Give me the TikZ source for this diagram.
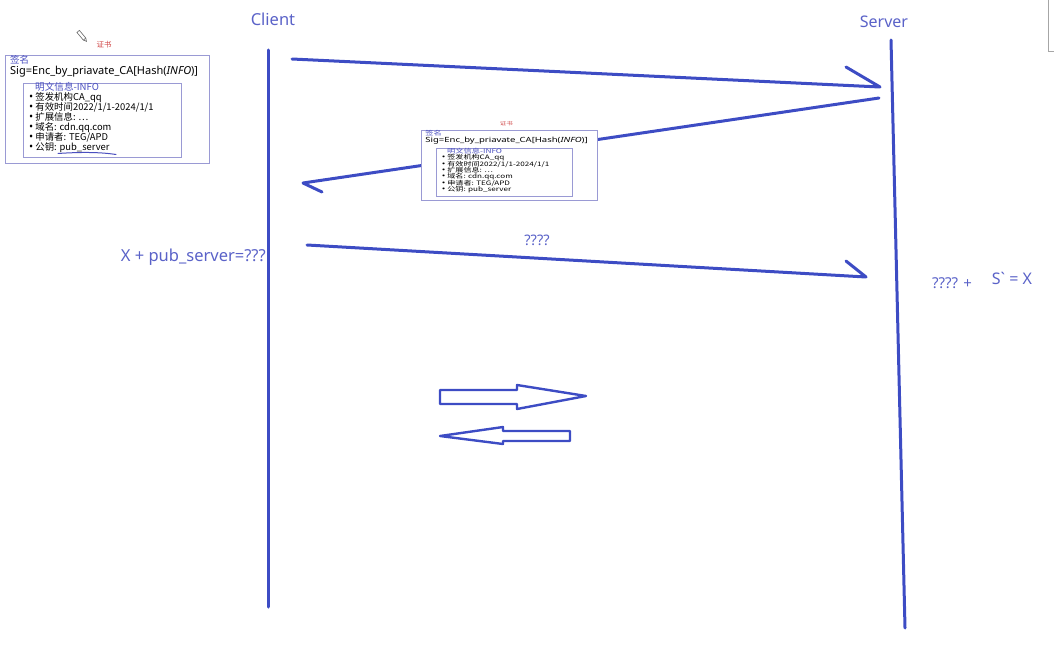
\documentclass[tikz,border=0pt]{standalone}
\usepackage{fontspec}
\setmainfont{Noto Sans}
\newfontfamily\cjk{Noto Sans CJK SC}
\newfontfamily\bul{Noto Sans}
\definecolor{pen}{HTML}{3D4CC4}
\definecolor{lbl}{HTML}{5A62C8}
\definecolor{certframe}{HTML}{9A9AD4}
\definecolor{certblue}{HTML}{4A4FC0}
\definecolor{certred}{HTML}{D04848}
\newcommand\bt{{\bul\fontsize{11}{10}\selectfont •}\ }
\tikzset{
  lifeline/.style={draw=pen, line width=3pt, line cap=round},
  msg/.style={draw=pen, line width=3pt, line cap=round, line join=round},
  lbltext/.style={text=lbl, inner sep=0pt, font=\fontsize{16.5}{18}\selectfont},
  hollow/.style={draw=pen, line width=2.4pt, line join=round, fill=white},
  ctxt/.style={inner sep=0pt, anchor=west, text height=6.8pt, text depth=1.6pt, font=\cjk\fontsize{9.4}{10}\selectfont},
  cert/.pic={
    \draw[certframe, line width=0.9pt, fill=white] (0,0) rectangle (204,108);
    \node[text=certred, inner sep=0pt, font=\cjk\fontsize{7.5}{8}\selectfont] (t) at (99,-10) {证书};
    \node[ctxt, text=certblue, font=\cjk\fontsize{9.5}{10}\selectfont] (sg) at (5,6) {签名};
    \node[ctxt, font=\fontsize{11}{12}\selectfont] (sig) at (5,16.5) {Sig=Enc\_by\_priavate\_CA[Hash(\textit{INFO})]};
    \draw[certframe, line width=0.9pt] (18,28) rectangle (176,102);
    \node[ctxt, text=certblue, font=\cjk\fontsize{9.6}{10}\selectfont] (info) at (30,33) {明文信息-INFO};
    \node[ctxt] (b1) at (24,43) {\bt 签发机构CA\_qq};
    \node[ctxt] (b2) at (24,53) {\bt 有效时间2022/1/1-2024/1/1};
    \node[ctxt] (b3) at (24,63) {\bt 扩展信息: \ldots};
    \node[ctxt] (b4) at (24,73) {\bt 域名: cdn.qq.com};
    \node[ctxt] (b5) at (24,83) {\bt 申请者: TEG/APD};
    \node[ctxt] (b6) at (24,92.5) {\bt 公钥: pub\_server};
  }
}
\begin{document}
\begin{tikzpicture}[x=1pt,y=-1pt]
\useasboundingbox (0,0) rectangle (1054,658);
% top-right window edge
\draw[gray!70, line width=1pt] (1048,0) -- (1048,52) -- (1054,52);
% titles
\node[lbltext] (client) at (273,19) {Client};
\node[lbltext, font=\fontsize{16}{18}\selectfont] (server) at (884,22) {Server};
% lifelines
\coordinate (ct) at (268,50); \coordinate (cb) at (268,607);
\coordinate (st) at (891,40); \coordinate (sb) at (905,628);
\draw[lifeline] (ct) -- (cb);
\draw[lifeline] (st) -- (sb);
% message 1
\coordinate (m1s) at (292,59); \coordinate (m1e) at (880,87); \coordinate (m1b) at (846,67);
\draw[msg] (m1s) -- (m1e) -- (m1b);
% message 2 (return, behind certificate)
\coordinate (m2s) at (879,98); \coordinate (m2e) at (303,183); \coordinate (m2b) at (322,192);
\draw[msg] (m2s) -- (m2e) -- (m2b);
% message 3
\coordinate (m3s) at (307,245); \coordinate (m3e) at (866,277); \coordinate (m3b) at (846,261);
\draw[msg] (m3s) -- (m3e) -- (m3b);
% certificates
\pic (c1) at (5,55) {cert};
\draw[certblue, line width=1pt, line cap=round] (58,153.5) .. controls (80,152) and (100,152) .. (116,154.5);
\begin{scope}[shift={(421,130)}, xscale=0.863, yscale=0.648, transform shape]
  \pic (c2) at (0,0) {cert};
\end{scope}
% pencil icon
\begin{scope}[shift={(82,36)}, rotate=-50]
  \draw[gray!80!black, line width=0.6pt, fill=white] (-6,-1.6) -- (4,-1.6) -- (7,0) -- (4,1.6) -- (-6,1.6) -- cycle;
  \draw[gray!80!black, line width=0.6pt] (4,-1.6) -- (4,1.6);
\end{scope}
% labels
\node[lbltext, anchor=east] (eq1) at (266,257) {X + pub\_server=???};
\node[lbltext, font=\fontsize{14.5}{16}\selectfont] (q4) at (537,240) {????};
\node[lbltext, font=\fontsize{15}{17}\selectfont] (q5) at (952,283) {???? +};
\node[lbltext, font=\fontsize{16}{18}\selectfont] (eq2) at (1012,278) {S\textasciigrave{} = X};
% hollow arrows
\draw[hollow] (440,390) -- (517,390) -- (517,385) -- (586,396) -- (517,409) -- (517,404) -- (440,404) -- cycle;
\draw[hollow] (570,431) -- (503,431) -- (503,427) -- (440,436) -- (503,444) -- (503,441) -- (570,441) -- cycle;
\end{tikzpicture}
\end{document}
